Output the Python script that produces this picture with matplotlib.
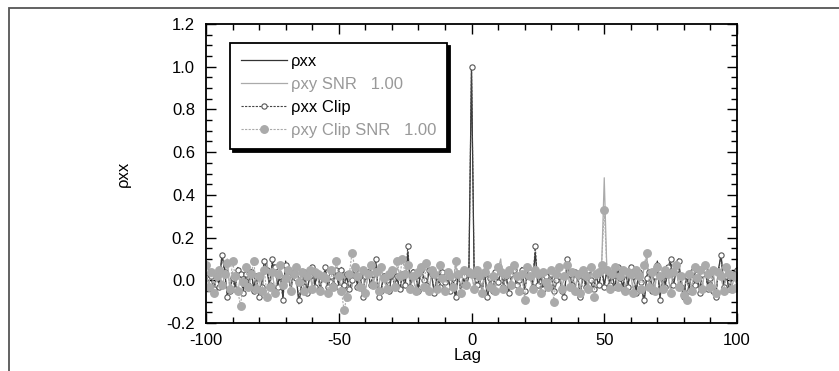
import matplotlib
matplotlib.use("Agg")
import matplotlib.pyplot as plt
import matplotlib.patches as patches
from matplotlib.ticker import MultipleLocator

plt.rcParams['font.family'] = ['Liberation Sans', 'DejaVu Sans']
plt.rcParams['axes.unicode_minus'] = False

# lags shown on the x axis
lags = list(range(-100, 101))

# rho_xx for positive lags 1..100 (autocorrelation is symmetric, peak 1 at lag 0)
rxx_pos = [
    0.02, -0.03, 0.01, -0.05, 0.04, -0.09, 0.02, -0.04, 0.03, -0.02,
    0.05, -0.01, 0.03, -0.06, 0.02, 0.04, -0.03, 0.01, 0.06, -0.04,
    0.03, 0.05, -0.02, 0.13, -0.03, 0.02, -0.05, 0.01, -0.02, 0.04,
    -0.06, -0.01, 0.03, -0.04, -0.07, 0.08, 0.02, -0.03, 0.05, 0.01,
    -0.06, 0.03, -0.02, 0.04, -0.01, -0.05, 0.02, -0.03, 0.06, -0.02,
    0.04, -0.01, 0.03, -0.04, 0.05, 0.02, -0.03, 0.04, -0.02, 0.07,
    0.01, -0.05, 0.03, -0.02, -0.11, 0.02, 0.05, -0.04, 0.01, 0.09,
    -0.08, 0.03, -0.02, 0.05, 0.08, -0.03, 0.04, 0.10, -0.02, -0.09,
    0.03, -0.04, 0.05, -0.01, 0.02, -0.05, 0.04, 0.06, -0.03, 0.02,
    -0.04, -0.07, 0.05, 0.12, -0.02, 0.03, -0.05, 0.01, 0.04, -0.02,
]

# rho_xx of the clipped signal, positive lags 1..100
rxx_clip_pos = [
    0.03, -0.02, 0.02, -0.06, 0.03, -0.08, 0.01, -0.05, 0.04, -0.01,
    0.04, -0.03, 0.02, -0.06, 0.03, 0.05, -0.02, 0.00, 0.05, -0.05,
    0.02, 0.04, -0.03, 0.16, -0.02, 0.03, -0.04, 0.02, -0.03, 0.03,
    -0.05, 0.00, 0.02, -0.05, -0.08, 0.10, 0.03, -0.02, 0.04, 0.02,
    -0.08, 0.02, -0.03, 0.05, 0.00, -0.04, 0.03, -0.02, 0.05, -0.03,
    0.05, -0.02, 0.02, -0.03, 0.06, 0.01, -0.04, 0.03, -0.03, 0.06,
    0.02, -0.06, 0.04, -0.01, -0.09, 0.01, 0.04, -0.05, 0.02, 0.07,
    -0.09, 0.02, -0.03, 0.06, 0.10, -0.02, 0.05, 0.09, -0.03, -0.08,
    0.02, -0.05, 0.04, -0.02, 0.03, -0.06, 0.03, 0.05, -0.04, 0.01,
    -0.05, -0.08, 0.04, 0.12, -0.03, 0.02, -0.04, 0.02, 0.03, 0.05,
]

rxx = rxx_pos[::-1] + [1.0] + rxx_pos
rxx_clip = rxx_clip_pos[::-1] + [1.0] + rxx_clip_pos

# rho_xy, SNR 1.00, lags -100..100 (delay 50)
rxy = [
    0.03, -0.02, 0.05, -0.04, 0.01, 0.06, -0.03, 0.02, 0.10, -0.05,
    0.04, 0.01, -0.06, 0.03, -0.02, 0.07, -0.04, 0.02, 0.05, -0.03,
    0.01, -0.07, 0.04, 0.08, -0.02, 0.03, -0.05, 0.02, 0.06, -0.03,
    0.00, 0.04, -0.04, 0.02, 0.05, -0.02, 0.03, -0.06, 0.01, 0.04,
    -0.03, 0.05, 0.02, -0.04, 0.03, 0.00, -0.05, 0.06, -0.02, 0.03,
    0.01, -0.04, 0.04, -0.09, 0.02, -0.03, 0.07, 0.01, -0.02, 0.04,
    -0.05, 0.02, 0.06, -0.01, 0.03, -0.04, 0.05, 0.00, -0.03, 0.02,
    0.04, -0.02, 0.06, 0.03, -0.05, 0.02, 0.08, -0.03, 0.01, -0.04,
    0.03, 0.05, -0.02, 0.01, -0.06, 0.04, 0.02, -0.03, 0.06, 0.00,
    -0.04, 0.03, 0.01, -0.02, 0.07, 0.02, -0.05, 0.04, -0.01, 0.03,
    0.02, -0.03, 0.04, 0.01, -0.05, 0.03, 0.06, -0.02, 0.01, -0.04,
    0.05, 0.10, -0.03, 0.02, 0.04, -0.01, 0.06, 0.03, -0.04, 0.02,
    -0.06, 0.05, 0.01, -0.03, 0.04, 0.02, -0.05, 0.03, 0.00, -0.02,
    0.04, -0.06, 0.02, 0.05, -0.03, 0.01, 0.06, -0.02, 0.03, -0.04,
    0.02, -0.05, 0.04, 0.01, -0.03, 0.05, -0.04, 0.02, 0.03, 0.06,
    0.48, 0.04, -0.03, 0.02, 0.05, -0.02, 0.01, 0.04, -0.04, 0.03,
    0.02, -0.05, 0.04, 0.01, -0.03, 0.06, 0.11, -0.02, 0.03, -0.04,
    0.05, 0.01, -0.03, 0.04, 0.02, -0.05, 0.03, 0.06, -0.02, 0.01,
    -0.06, 0.03, 0.02, -0.04, 0.05, 0.00, 0.04, -0.03, 0.06, 0.02,
    -0.02, 0.04, -0.05, 0.03, 0.01, -0.04, 0.05, 0.02, -0.03, 0.01,
    -0.02,
]

# rho_xy of the clipped signals, SNR 1.00
rxy_clip = [
    0.07, -0.03, 0.04, -0.06, 0.02, 0.05, -0.02, 0.03, 0.08, -0.04,
    0.09, 0.02, -0.05, -0.12, -0.01, 0.06, -0.03, 0.03, 0.09, -0.04,
    0.02, -0.05, 0.05, -0.08, -0.03, 0.04, -0.06, 0.03, 0.07, -0.02,
    0.01, 0.05, -0.05, 0.03, 0.06, -0.01, 0.04, -0.05, 0.02, 0.05,
    -0.04, 0.04, 0.03, -0.05, 0.02, 0.01, -0.06, 0.05, -0.03, 0.09,
    0.02, -0.05, -0.14, -0.08, 0.03, 0.13, 0.06, 0.02, -0.03, 0.05,
    -0.06, 0.03, 0.07, -0.02, 0.04, -0.05, 0.06, 0.01, -0.04, 0.03,
    0.05, -0.03, 0.09, 0.02, 0.10, 0.03, 0.07, -0.04, 0.02, -0.05,
    0.04, 0.06, -0.03, 0.08, -0.05, 0.05, 0.03, -0.04, 0.07, 0.01,
    -0.05, 0.04, 0.02, -0.03, 0.09, 0.03, -0.06, 0.05, -0.02, 0.04,
    0.03, -0.04, 0.05, 0.02, -0.06, 0.04, 0.07, -0.03, 0.02, -0.05,
    0.06, 0.04, -0.04, 0.03, 0.05, -0.02, 0.07, 0.02, -0.05, 0.03,
    -0.09, 0.06, 0.02, -0.04, 0.05, 0.03, -0.06, 0.04, -0.01, -0.03,
    0.05, -0.10, 0.03, 0.06, -0.04, 0.02, 0.07, -0.03, 0.04, -0.05,
    0.03, -0.06, 0.05, 0.02, -0.04, 0.06, -0.08, 0.03, 0.04, 0.07,
    0.33, 0.05, -0.04, 0.03, 0.06, -0.03, 0.02, 0.05, -0.05, 0.04,
    0.03, -0.06, 0.05, 0.02, -0.04, 0.07, 0.13, -0.03, 0.04, -0.05,
    0.06, 0.02, -0.04, 0.05, 0.03, -0.06, 0.04, 0.07, -0.03, 0.02,
    -0.07, -0.09, 0.03, -0.05, 0.06, 0.01, 0.05, -0.04, 0.07, 0.03,
    -0.03, 0.05, -0.06, 0.04, 0.02, -0.05, 0.06, 0.03, -0.04, 0.02,
    -0.03,
]

labels = ["\u03c1xx", "\u03c1xy SNR   1.00", "\u03c1xx Clip", "\u03c1xy Clip SNR   1.00"]

dark = "#333333"
gray = "#aaaaaa"

fig = plt.figure(figsize=(8.39, 3.71), dpi=100)
ax = fig.add_axes([206 / 839, 48 / 371, 531 / 839, 299 / 371])

# outer frame (runs off the right and bottom edge)
fig.patches.append(patches.Rectangle((9 / 839, -0.1), 1.2, 1.1 - 8 / 371,
                                     transform=fig.transFigure, fill=False,
                                     edgecolor="#555555", linewidth=1.3))

ax.plot(lags, rxx, color=dark, lw=0.9, label=labels[0])
ax.plot(lags, rxy, color=gray, lw=0.9, label=labels[1])
ax.plot(lags, rxx_clip, color="#444444", lw=0.8, dashes=(2, 1.2),
        marker="o", ms=3.8, mfc="white", mec="#555555", mew=0.8, label=labels[2])
ax.plot(lags, rxy_clip, color=gray, lw=0.8, dashes=(2, 1.2),
        marker="o", ms=5.4, mfc=gray, mec=gray, label=labels[3])

ax.set_xlim(-100, 100)
ax.set_ylim(-0.2, 1.2)
ax.xaxis.set_major_locator(MultipleLocator(50))
ax.xaxis.set_minor_locator(MultipleLocator(10))
ax.yaxis.set_major_locator(MultipleLocator(0.2))
ax.yaxis.set_minor_locator(MultipleLocator(0.05))
ax.yaxis.set_major_formatter(matplotlib.ticker.FormatStrFormatter("%.1f"))

ax.tick_params(which="both", direction="in", top=True, right=True,
               labelsize=12, width=1, color="black")
ax.tick_params(which="major", length=7)
ax.tick_params(which="minor", length=4)
ax.tick_params(axis="x", pad=7)
ax.tick_params(axis="y", pad=8)
for s in ax.spines.values():
    s.set_linewidth(1.3)

ax.set_xlabel("Lag", fontsize=12)
ax.xaxis.set_label_coords(0.493, -0.085)
ax.set_ylabel("\u03c1xx", fontsize=12)
ax.yaxis.set_label_coords(-0.141, 0.5)

leg = ax.legend(loc="upper left", bbox_to_anchor=(0.045, 0.936), fontsize=12,
                fancybox=False, framealpha=1, edgecolor="black",
                handlelength=2.8, handletextpad=0.2, labelspacing=0.48,
                borderpad=0.65, borderaxespad=0,
                shadow={"facecolor": "black", "edgecolor": "black", "alpha": 1})
leg.get_frame().set_linewidth(1.3)
for txt, c in zip(leg.get_texts(), ["black", "#999999", "black", "#999999"]):
    txt.set_color(c)

fig.savefig("out.png", dpi=100)
